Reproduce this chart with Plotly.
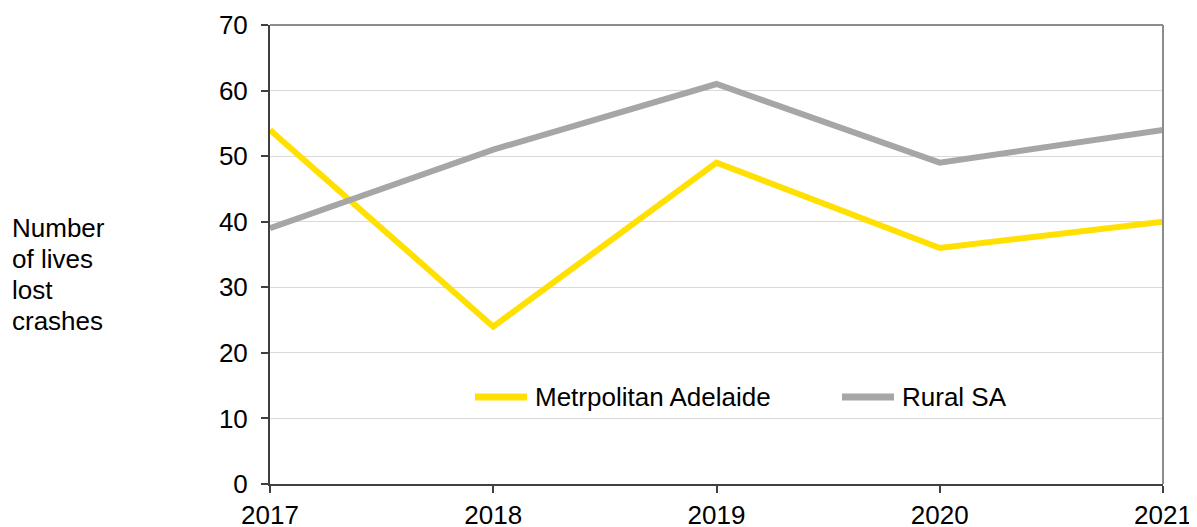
import plotly.graph_objects as go

years = [2017, 2018, 2019, 2020, 2021]
metro = [54, 24, 49, 36, 40]
rural = [39, 51, 61, 49, 54]
series_names = ["Metrpolitan Adelaide", "Rural SA"]
title_lines = ["Number", "of lives", "lost", "crashes"]

YELLOW = "#FFE000"
GREY = "#A6A6A6"
font = "Liberation Sans, Arial, sans-serif"
FS = 26

fig = go.Figure()
fig.add_trace(go.Scatter(x=years, y=metro, mode="lines", name=series_names[0],
                         line=dict(color=YELLOW, width=6), showlegend=False))
fig.add_trace(go.Scatter(x=years, y=rural, mode="lines", name=series_names[1],
                         line=dict(color=GREY, width=6), showlegend=False))

# page offset (browser body margin) compensation: page = fig + 8
PW = 893.0
PH = 459.0


def px(page_x):
    return (page_x - 270) / PW


def py(page_y):
    return 1 - (page_y - 25) / PH


annotations = []
for i, t in enumerate(title_lines):
    annotations.append(dict(text=t, xref="paper", yref="paper", x=px(10), y=py(228 + 31 * i),
                            xanchor="left", yanchor="middle", align="left",
                            showarrow=False, font=dict(size=FS, family=font, color="black")))

shapes = [
    dict(type="line", xref="paper", yref="paper", x0=0, x1=1, y0=1, y1=1,
         line=dict(color="#8C8C8C", width=2)),
    dict(type="line", xref="paper", yref="paper", x0=1, x1=1, y0=0, y1=1,
         line=dict(color="#8C8C8C", width=2)),
]
# custom legend
leg = [(series_names[0], YELLOW, 475, 527, 533), (series_names[1], GREY, 842, 894, 900)]
for name, col, x0, x1, tx in leg:
    shapes.append(dict(type="line", xref="paper", yref="paper", x0=px(x0), x1=px(x1),
                       y0=py(397), y1=py(397), line=dict(color=col, width=7)))
    annotations.append(dict(text=name, xref="paper", yref="paper", x=px(tx), y=py(397),
                            xanchor="left", yanchor="middle", showarrow=False,
                            font=dict(size=FS, family=font, color="black")))

fig.update_layout(
    template="none",
    width=1197, height=527,
    margin=dict(l=262, r=42, t=17, b=51, pad=0, autoexpand=False),
    paper_bgcolor="white", plot_bgcolor="white",
    font=dict(family=font, size=FS, color="black"),
    showlegend=False,
    xaxis=dict(range=[2017, 2021], tickvals=years, ticktext=[str(y) for y in years],
               showgrid=False, showline=True, linecolor="#404040", linewidth=2,
               ticks="outside", ticklen=7, tickcolor="#404040", tickwidth=2, zeroline=False,
               automargin=False, tickfont=dict(size=FS)),
    yaxis=dict(range=[0, 70], dtick=10, showgrid=True, gridcolor="#D9D9D9", gridwidth=1,
               showline=True, linecolor="#404040", linewidth=2,
               ticks="outside", ticklen=7, tickcolor="#404040", tickwidth=2, zeroline=False,
               automargin=False, tickfont=dict(size=FS), ticklabelstandoff=8),
    shapes=shapes,
    annotations=annotations,
)
fig.write_html("out.html")
